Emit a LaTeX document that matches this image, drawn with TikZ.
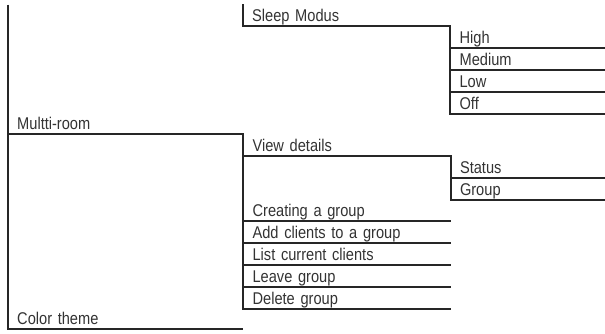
\documentclass[tikz,border=0pt]{standalone}
\usepackage{fontspec}
\setmainfont[FakeStretch=0.86,WordSpace=0.85]{Liberation Sans}
\usetikzlibrary{positioning}

\begin{document}
\begin{tikzpicture}[x=1pt,y=-1pt]
   \useasboundingbox (0,0) rectangle (605,334);
   \fontsize{17}{18}\selectfont
   \tikzstyle{row}=[anchor=south west, inner xsep=9pt, inner ysep=0pt, text height=17.3pt, text depth=4.3pt, align=left, text=black!80]
   \tikzstyle{col1}=[row, text width=217pt]
   \tikzstyle{col2}=[row, text width=189pt]
   \tikzstyle{col3}=[row, text width=137pt]
   \tikzstyle{rule}=[line width=1.9pt, draw=black!85]
   \coordinate (top) at (8,4.6);
   % first level
   \node[col1] (multi) at (8,134.2) {Multti-room};
   \node[col1] (color) at (8,328.6) {Color theme};
   % second level
   \node[col2] (sleep) at (243,26.2) {Sleep Modus};
   \node[col2, below right=0pt of multi.south east] (view) {View details};
   \node[col2, below=43.2pt of view] (creating) {Creating a group};
   \node[col2, below=0pt of creating] (add) {Add clients to a group};
   \node[col2, below=0pt of add] (list) {List current clients};
   \node[col2, below=0pt of list] (leave) {Leave group};
   \node[col2, below=0pt of leave] (delete) {Delete group};
   % third level
   \node[col3, below right=0pt of sleep.south east] (high) {High};
   \node[col3, below=0pt of high] (medium) {Medium};
   \node[col3, below=0pt of medium] (low) {Low};
   \node[col3, below=0pt of low] (off) {Off};
   \node[col3, below right=0pt of view.south east] (status) {Status};
   \node[col3, below=0pt of status] (group) {Group};
   % rules
   \draw[rule] (top) -- (color.south west) -- (color.south east);
   \draw[rule] (multi.south west) -- (multi.south east) -- (delete.south west) -- (delete.south east);
   \draw[rule] (sleep.north west) -- (sleep.south west) -- (sleep.south east) -- (off.south west) -- (off.south east);
   \draw[rule] (view.south west) -- (view.south east) -- (group.south west) -- (group.south east);
   \foreach \n in {high,medium,low,status,creating,add,list,leave}
      \draw[rule] (\n.south west) -- (\n.south east);
\end{tikzpicture}
\end{document}
